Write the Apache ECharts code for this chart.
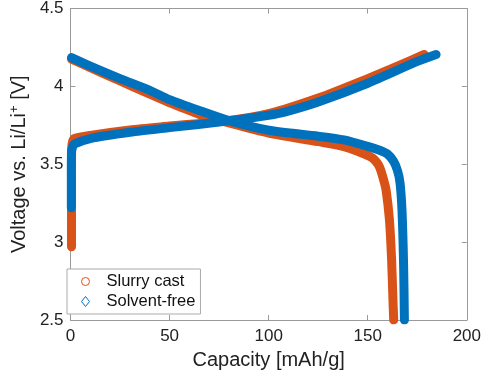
<!DOCTYPE html>
<html>
<head>
<meta charset="utf-8">
<script src="https://cdn.jsdelivr.net/npm/echarts@6/dist/echarts.min.js"></script>
<style>
html, body { margin: 0; padding: 0; background: #fff; }
#chart { width: 484px; height: 375px; }
</style>
</head>
<body>
<div id="chart"></div>
<script>
// charge / discharge curves
var slurryChargeCap = [0.5, 0.5, 0.5, 0.6, 1, 2, 10, 30, 50, 79, 100, 125, 150, 165, 178.5];
var slurryChargeV   = [2.97, 3.2, 3.45, 3.6, 3.645, 3.665, 3.685, 3.72, 3.745, 3.78, 3.825, 3.925, 4.05, 4.13, 4.205];
var slurryDischCap  = [0.5, 10, 25, 40, 50, 65, 80, 100, 125, 138, 151, 154, 156, 158, 159.3, 160.9, 162, 162.8, 163.1];
var slurryDischV    = [4.175, 4.12, 4.035, 3.95, 3.895, 3.82, 3.765, 3.70, 3.645, 3.613, 3.55, 3.52, 3.48, 3.40, 3.33, 3.15, 2.9, 2.6, 2.5];

var freeChargeCap = [0.4, 0.4, 0.5, 1, 2, 10, 30, 50, 79, 100, 108, 125, 150, 175, 184.5];
var freeChargeV   = [3.22, 3.45, 3.58, 3.61, 3.63, 3.665, 3.705, 3.735, 3.777, 3.815, 3.835, 3.9, 4.02, 4.16, 4.205];
var freeDischCap  = [0.5, 10, 25, 40, 50, 65, 80, 100, 125, 138, 150, 156, 160, 163, 165, 166.3, 167.3, 168.1, 168.5];
var freeDischV    = [4.185, 4.13, 4.05, 3.975, 3.915, 3.845, 3.78, 3.718, 3.68, 3.656, 3.615, 3.59, 3.565, 3.52, 3.46, 3.38, 3.2, 2.85, 2.5];

var xTicks = [0, 50, 100, 150, 200];
var yTicks = [2.5, 3, 3.5, 4, 4.5];

var orange = '#D95319';
var blue = '#0072BD';
var frame = '#9a9a9a';

function pairs(xs, ys) {
	var out = [];
	for (var i = 0; i < xs.length; i++) out.push([xs[i], ys[i]]);
	return out;
}

function curve(name, color, xs, ys) {
	return {
		name: name,
		type: 'line',
		data: pairs(xs, ys),
		showSymbol: false,
		smooth: 0.25,
		color: color,
		lineStyle: { color: color, width: 9, cap: 'round', join: 'round' },
		animation: false
	};
}

var myChart = echarts.init(document.getElementById('chart'));

var axisCommonX = {
	type: 'value',
	min: xTicks[0],
	max: xTicks[xTicks.length - 1],
	interval: 50,
	splitLine: { show: false },
	axisLine: { show: true, onZero: false, lineStyle: { color: frame, width: 1 } },
	axisTick: { show: true, inside: true, length: 5, lineStyle: { color: frame } }
};
var axisCommonY = {
	type: 'value',
	min: yTicks[0],
	max: yTicks[yTicks.length - 1],
	interval: 0.5,
	splitLine: { show: false },
	axisLine: { show: true, onZero: false, lineStyle: { color: frame, width: 1 } },
	axisTick: { show: true, inside: true, length: 5, lineStyle: { color: frame } }
};

var option = {
	backgroundColor: '#fff',
	textStyle: { fontFamily: 'Liberation Sans, Arial, sans-serif' },
	grid: { left: 59, right: 17, top: 8, bottom: 54 },
	legend: {
		orient: 'vertical',
		left: 67,
		top: 269,
		padding: [4, 5, 4, 14],
		itemGap: 3,
		itemWidth: 8,
		itemHeight: 10,
		borderColor: '#aaa',
		borderWidth: 1,
		backgroundColor: '#fff',
		textStyle: { fontSize: 16.5, color: '#111', padding: [0, 0, 0, 12] },
		data: [
			{ name: 'Slurry cast', icon: 'circle', itemStyle: { color: '#fff', borderColor: orange, borderWidth: 1 } },
			{ name: 'Solvent-free', icon: 'diamond', itemStyle: { color: '#fff', borderColor: blue, borderWidth: 1 } }
		]
	},
	xAxis: [
		Object.assign({}, axisCommonX, {
			position: 'bottom',
			name: 'Capacity [mAh/g]',
			nameLocation: 'middle',
			nameGap: 30,
			nameTextStyle: { fontSize: 20, color: '#222' },
			axisLabel: { fontSize: 17, color: '#222', margin: 8 }
		}),
		Object.assign({}, axisCommonX, { position: 'top', axisLabel: { show: false } })
	],
	yAxis: [
		Object.assign({}, axisCommonY, {
			position: 'left',
			name: 'Voltage vs. Li/Li{sup|+} [V]',
			nameLocation: 'middle',
			nameGap: 37,
			nameTextStyle: {
				fontSize: 20,
				color: '#222',
				rich: { sup: { fontSize: 13, color: '#222', padding: [0, 0, 9, 0] } }
			},
			axisLabel: { fontSize: 17, color: '#222', margin: 7 }
		}),
		Object.assign({}, axisCommonY, { position: 'right', axisLabel: { show: false } })
	],
	series: [
		curve('Slurry cast', orange, slurryChargeCap, slurryChargeV),
		curve('Slurry cast', orange, slurryDischCap, slurryDischV),
		curve('Solvent-free', blue, freeChargeCap, freeChargeV),
		curve('Solvent-free', blue, freeDischCap, freeDischV)
	]
};

myChart.setOption(option, true);
</script>
</body>
</html>
